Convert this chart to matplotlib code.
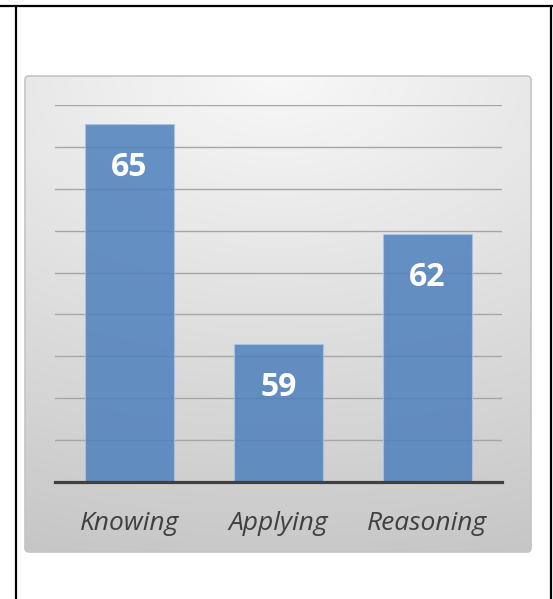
import numpy as np
import matplotlib.pyplot as plt
from matplotlib.patches import FancyBboxPatch

categories = ['Knowing', 'Applying', 'Reasoning']
scores = [65, 59, 62]

W, H = 553, 599
fig = plt.figure(figsize=(W / 100, H / 100), dpi=100)

# full-figure layer in pixel units for the frame and the shaded panel
bg = fig.add_axes([0, 0, 1, 1])
bg.set_xlim(0, W)
bg.set_ylim(H, 0)
bg.axis('off')

px0, px1, py0, py1 = 25, 531, 76, 552
yy, xx = np.mgrid[0:1:300j, 0:1:300j]
t = np.clip(np.sqrt(((xx - 0.5) / 1.6) ** 2 + (yy / 1.05) ** 2), 0, 1)
light = np.array([248, 248, 248]) / 255
dark = np.array([198, 198, 198]) / 255
shade = light + (dark - light) * t[..., None]
im = bg.imshow(shade, extent=(px0, px1, py1, py0), aspect='auto', zorder=1)
panel = FancyBboxPatch((px0, py0), px1 - px0, py1 - py0,
                       boxstyle='round,pad=0,rounding_size=4',
                       fc='none', ec='#c4c4c4', lw=1.2, zorder=2)
bg.add_patch(panel)
im.set_clip_path(panel)

# table cell lines
bg.plot([0, W], [6, 6], color='black', lw=1.6, solid_capstyle='butt')
bg.plot([16, 16], [6, H], color='black', lw=1.6, solid_capstyle='butt')
bg.plot([551, 551], [6, H], color='black', lw=1.6, solid_capstyle='butt')

# bar chart
ax = fig.add_axes([55 / W, (H - 482) / H, (502 - 55) / W, (482 - 105) / H])
ax.set_facecolor('none')
ymin, ymax = 55.25, 65.53
ax.set_ylim(ymin, ymax)
ax.set_xlim(-0.5, len(categories) - 0.5)
ax.set_yticks(np.linspace(ymin, ymax, 10))
ax.yaxis.grid(True, color='#a6a6a6', lw=1.0)
ax.set_axisbelow(True)
ax.tick_params(axis='y', length=0, labelleft=False)

for side in ['top', 'left', 'right']:
    ax.spines[side].set_visible(False)
ax.spines['bottom'].set_color('#404040')
ax.spines['bottom'].set_linewidth(2.3)
ax.spines['bottom'].set_zorder(4)

x = np.arange(len(categories))
ax.bar(x, scores, width=0.6, color='#4F81BD', alpha=0.86,
       edgecolor='#a9c4e4', linewidth=0.8, zorder=3)

for xi, v in zip(x, scores):
    ax.annotate(str(v), (xi, v), xytext=(0, -31), textcoords='offset points',
                ha='center', va='center', color='white', fontsize=23,
                fontweight='bold', family='Open Sans', zorder=5)

ax.set_xticks(x, categories, fontstyle='italic', fontsize=19,
              color='#404040', family='Open Sans')
ax.tick_params(axis='x', length=0, pad=21)

fig.savefig('out.png', dpi=100)
